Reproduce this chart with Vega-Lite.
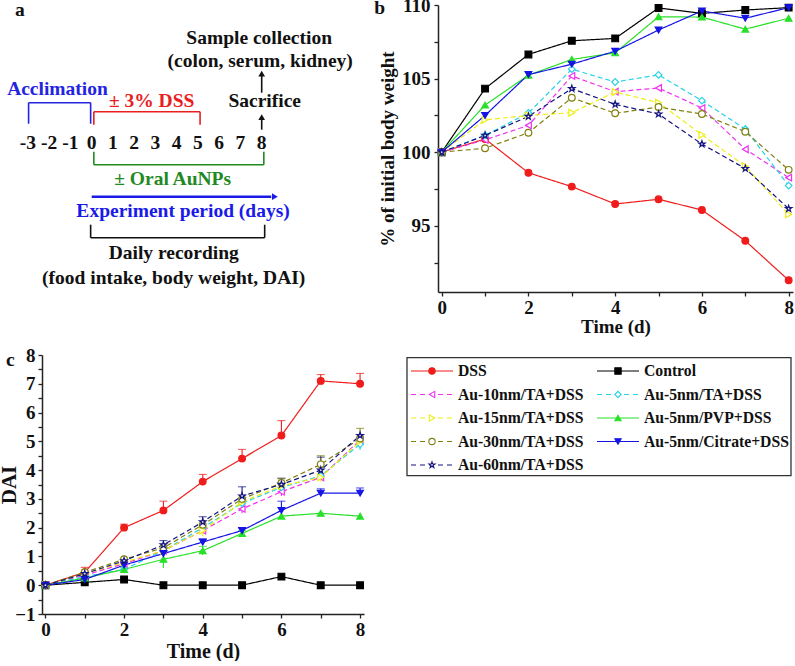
{
 "$schema": "https://vega.github.io/schema/vega-lite/v6.json",
 "background": "white",
 "padding": {"left": -2, "top": -4, "right": 0, "bottom": 0},
 "bounds": "flush",
 "align": "none",
 "columns": 2,
 "spacing": {"row": 63, "column": 43},
 "resolve": {"scale": {"color": "independent", "shape": "independent", "stroke": "independent", "fill": "independent", "strokeDash": "independent"}},
 "config": {
  "view": {"stroke": null},
  "font": "Liberation Serif",
  "axis": {"grid": false, "domainColor": "#222222", "domainWidth": 1.5, "tickColor": "#222222", "tickWidth": 1.3, "tickSize": 4, "labelFont": "Liberation Serif", "labelFontWeight": "bold", "labelColor": "#111111", "titleFont": "Liberation Serif", "titleFontWeight": "bold", "titleColor": "#111111", "labelFlush": false, "labelOverlap": false, "labelPadding": 2},
  "text": {"font": "Liberation Serif", "fontWeight": "bold"}
 },
 "datasets": {
  "bw": [
   {"g":"DSS","t":0,"v":100},{"g":"DSS","t":1,"v":100.9},{"g":"DSS","t":2,"v":98.6},{"g":"DSS","t":3,"v":97.66},{"g":"DSS","t":4,"v":96.48},{"g":"DSS","t":5,"v":96.8},{"g":"DSS","t":6,"v":96.07},{"g":"DSS","t":7,"v":93.98},{"g":"DSS","t":8,"v":91.3},
   {"g":"Control","t":0,"v":100},{"g":"Control","t":1,"v":104.32},{"g":"Control","t":2,"v":106.64},{"g":"Control","t":3,"v":107.57},{"g":"Control","t":4,"v":107.73},{"g":"Control","t":5,"v":109.8},{"g":"Control","t":6,"v":109.43},{"g":"Control","t":7,"v":109.66},{"g":"Control","t":8,"v":109.82},
   {"g":"Au-10nm/TA+DSS","t":0,"v":100},{"g":"Au-10nm/TA+DSS","t":1,"v":100.84},{"g":"Au-10nm/TA+DSS","t":2,"v":101.82},{"g":"Au-10nm/TA+DSS","t":3,"v":105.18},{"g":"Au-10nm/TA+DSS","t":4,"v":104.11},{"g":"Au-10nm/TA+DSS","t":5,"v":104.36},{"g":"Au-10nm/TA+DSS","t":6,"v":103.0},{"g":"Au-10nm/TA+DSS","t":7,"v":100.2},{"g":"Au-10nm/TA+DSS","t":8,"v":98.27},
   {"g":"Au-5nm/TA+DSS","t":0,"v":100},{"g":"Au-5nm/TA+DSS","t":1,"v":101.15},{"g":"Au-5nm/TA+DSS","t":2,"v":102.66},{"g":"Au-5nm/TA+DSS","t":3,"v":105.64},{"g":"Au-5nm/TA+DSS","t":4,"v":104.77},{"g":"Au-5nm/TA+DSS","t":5,"v":105.25},{"g":"Au-5nm/TA+DSS","t":6,"v":103.5},{"g":"Au-5nm/TA+DSS","t":7,"v":101.57},{"g":"Au-5nm/TA+DSS","t":8,"v":97.73},
   {"g":"Au-15nm/TA+DSS","t":0,"v":100},{"g":"Au-15nm/TA+DSS","t":1,"v":102.2},{"g":"Au-15nm/TA+DSS","t":2,"v":102.5},{"g":"Au-15nm/TA+DSS","t":3,"v":102.68},{"g":"Au-15nm/TA+DSS","t":4,"v":104.09},{"g":"Au-15nm/TA+DSS","t":5,"v":103.36},{"g":"Au-15nm/TA+DSS","t":6,"v":101.18},{"g":"Au-15nm/TA+DSS","t":7,"v":99.05},{"g":"Au-15nm/TA+DSS","t":8,"v":95.77},
   {"g":"Au-5nm/PVP+DSS","t":0,"v":100},{"g":"Au-5nm/PVP+DSS","t":1,"v":103.2},{"g":"Au-5nm/PVP+DSS","t":2,"v":105.23},{"g":"Au-5nm/PVP+DSS","t":3,"v":106.3},{"g":"Au-5nm/PVP+DSS","t":4,"v":106.75},{"g":"Au-5nm/PVP+DSS","t":5,"v":109.2},{"g":"Au-5nm/PVP+DSS","t":6,"v":109.18},{"g":"Au-5nm/PVP+DSS","t":7,"v":108.36},{"g":"Au-5nm/PVP+DSS","t":8,"v":109.1},
   {"g":"Au-30nm/TA+DSS","t":0,"v":100},{"g":"Au-30nm/TA+DSS","t":1,"v":100.27},{"g":"Au-30nm/TA+DSS","t":2,"v":101.32},{"g":"Au-30nm/TA+DSS","t":3,"v":103.7},{"g":"Au-30nm/TA+DSS","t":4,"v":102.64},{"g":"Au-30nm/TA+DSS","t":5,"v":103.07},{"g":"Au-30nm/TA+DSS","t":6,"v":102.59},{"g":"Au-30nm/TA+DSS","t":7,"v":101.39},{"g":"Au-30nm/TA+DSS","t":8,"v":98.8},
   {"g":"Au-5nm/Citrate+DSS","t":0,"v":100},{"g":"Au-5nm/Citrate+DSS","t":1,"v":102.5},{"g":"Au-5nm/Citrate+DSS","t":2,"v":105.27},{"g":"Au-5nm/Citrate+DSS","t":3,"v":105.98},{"g":"Au-5nm/Citrate+DSS","t":4,"v":106.86},{"g":"Au-5nm/Citrate+DSS","t":5,"v":108.3},{"g":"Au-5nm/Citrate+DSS","t":6,"v":109.6},{"g":"Au-5nm/Citrate+DSS","t":7,"v":109.1},{"g":"Au-5nm/Citrate+DSS","t":8,"v":109.82},
   {"g":"Au-60nm/TA+DSS","t":0,"v":100},{"g":"Au-60nm/TA+DSS","t":1,"v":101.14},{"g":"Au-60nm/TA+DSS","t":2,"v":102.43},{"g":"Au-60nm/TA+DSS","t":3,"v":104.32},{"g":"Au-60nm/TA+DSS","t":4,"v":103.25},{"g":"Au-60nm/TA+DSS","t":5,"v":102.59},{"g":"Au-60nm/TA+DSS","t":6,"v":100.55},{"g":"Au-60nm/TA+DSS","t":7,"v":98.89},{"g":"Au-60nm/TA+DSS","t":8,"v":96.16}
  ],
  "dai": [
   {"g":"DSS","t":0,"v":0},{"g":"DSS","t":1,"v":0.45},{"g":"DSS","t":2,"v":2.0},{"g":"DSS","t":3,"v":2.6},{"g":"DSS","t":4,"v":3.6},{"g":"DSS","t":5,"v":4.4},{"g":"DSS","t":6,"v":5.2},{"g":"DSS","t":7,"v":7.1},{"g":"DSS","t":8,"v":7.0},
   {"g":"Control","t":0,"v":0},{"g":"Control","t":1,"v":0.1},{"g":"Control","t":2,"v":0.2},{"g":"Control","t":3,"v":0},{"g":"Control","t":4,"v":0},{"g":"Control","t":5,"v":0},{"g":"Control","t":6,"v":0.3},{"g":"Control","t":7,"v":0},{"g":"Control","t":8,"v":0},
   {"g":"Au-10nm/TA+DSS","t":0,"v":0},{"g":"Au-10nm/TA+DSS","t":1,"v":0.35},{"g":"Au-10nm/TA+DSS","t":2,"v":0.75},{"g":"Au-10nm/TA+DSS","t":3,"v":1.2},{"g":"Au-10nm/TA+DSS","t":4,"v":1.9},{"g":"Au-10nm/TA+DSS","t":5,"v":2.65},{"g":"Au-10nm/TA+DSS","t":6,"v":3.25},{"g":"Au-10nm/TA+DSS","t":7,"v":3.75},{"g":"Au-10nm/TA+DSS","t":8,"v":5.05},
   {"g":"Au-5nm/TA+DSS","t":0,"v":0},{"g":"Au-5nm/TA+DSS","t":1,"v":0.3},{"g":"Au-5nm/TA+DSS","t":2,"v":0.55},{"g":"Au-5nm/TA+DSS","t":3,"v":1.2},{"g":"Au-5nm/TA+DSS","t":4,"v":2.0},{"g":"Au-5nm/TA+DSS","t":5,"v":2.85},{"g":"Au-5nm/TA+DSS","t":6,"v":3.4},{"g":"Au-5nm/TA+DSS","t":7,"v":3.8},{"g":"Au-5nm/TA+DSS","t":8,"v":4.9},
   {"g":"Au-15nm/TA+DSS","t":0,"v":0},{"g":"Au-15nm/TA+DSS","t":1,"v":0.4},{"g":"Au-15nm/TA+DSS","t":2,"v":0.8},{"g":"Au-15nm/TA+DSS","t":3,"v":1.2},{"g":"Au-15nm/TA+DSS","t":4,"v":1.9},{"g":"Au-15nm/TA+DSS","t":5,"v":2.9},{"g":"Au-15nm/TA+DSS","t":6,"v":3.45},{"g":"Au-15nm/TA+DSS","t":7,"v":3.75},{"g":"Au-15nm/TA+DSS","t":8,"v":5.0},
   {"g":"Au-5nm/PVP+DSS","t":0,"v":0},{"g":"Au-5nm/PVP+DSS","t":1,"v":0.25},{"g":"Au-5nm/PVP+DSS","t":2,"v":0.55},{"g":"Au-5nm/PVP+DSS","t":3,"v":0.9},{"g":"Au-5nm/PVP+DSS","t":4,"v":1.2},{"g":"Au-5nm/PVP+DSS","t":5,"v":1.8},{"g":"Au-5nm/PVP+DSS","t":6,"v":2.4},{"g":"Au-5nm/PVP+DSS","t":7,"v":2.5},{"g":"Au-5nm/PVP+DSS","t":8,"v":2.4},
   {"g":"Au-30nm/TA+DSS","t":0,"v":0},{"g":"Au-30nm/TA+DSS","t":1,"v":0.45},{"g":"Au-30nm/TA+DSS","t":2,"v":0.9},{"g":"Au-30nm/TA+DSS","t":3,"v":1.3},{"g":"Au-30nm/TA+DSS","t":4,"v":2.1},{"g":"Au-30nm/TA+DSS","t":5,"v":3.0},{"g":"Au-30nm/TA+DSS","t":6,"v":3.55},{"g":"Au-30nm/TA+DSS","t":7,"v":4.2},{"g":"Au-30nm/TA+DSS","t":8,"v":5.1},
   {"g":"Au-5nm/Citrate+DSS","t":0,"v":0},{"g":"Au-5nm/Citrate+DSS","t":1,"v":0.2},{"g":"Au-5nm/Citrate+DSS","t":2,"v":0.7},{"g":"Au-5nm/Citrate+DSS","t":3,"v":1.1},{"g":"Au-5nm/Citrate+DSS","t":4,"v":1.5},{"g":"Au-5nm/Citrate+DSS","t":5,"v":1.9},{"g":"Au-5nm/Citrate+DSS","t":6,"v":2.6},{"g":"Au-5nm/Citrate+DSS","t":7,"v":3.2},{"g":"Au-5nm/Citrate+DSS","t":8,"v":3.2},
   {"g":"Au-60nm/TA+DSS","t":0,"v":0},{"g":"Au-60nm/TA+DSS","t":1,"v":0.4},{"g":"Au-60nm/TA+DSS","t":2,"v":0.85},{"g":"Au-60nm/TA+DSS","t":3,"v":1.4},{"g":"Au-60nm/TA+DSS","t":4,"v":2.2},{"g":"Au-60nm/TA+DSS","t":5,"v":3.1},{"g":"Au-60nm/TA+DSS","t":6,"v":3.5},{"g":"Au-60nm/TA+DSS","t":7,"v":4.0},{"g":"Au-60nm/TA+DSS","t":8,"v":5.2}
  ],
  "err": [
   {"g":"DSS","t":1,"lo":0.45,"hi":0.62},{"g":"DSS","t":2,"lo":2.0,"hi":2.12},{"g":"DSS","t":3,"lo":2.6,"hi":2.92},{"g":"DSS","t":4,"lo":3.6,"hi":3.85},{"g":"DSS","t":5,"lo":4.4,"hi":4.72},{"g":"DSS","t":6,"lo":5.2,"hi":5.72},{"g":"DSS","t":7,"lo":7.1,"hi":7.32},{"g":"DSS","t":8,"lo":7.0,"hi":7.36},
   {"g":"Au-5nm/PVP+DSS","t":2,"lo":0.45,"hi":0.62},{"g":"Au-5nm/PVP+DSS","t":3,"lo":0.6,"hi":1.18},{"g":"Au-5nm/PVP+DSS","t":4,"lo":1.05,"hi":1.35},{"g":"Au-5nm/PVP+DSS","t":5,"lo":1.7,"hi":1.9},
   {"g":"Au-5nm/Citrate+DSS","t":4,"lo":1.5,"hi":1.6},{"g":"Au-5nm/Citrate+DSS","t":5,"lo":1.9,"hi":1.98},{"g":"Au-5nm/Citrate+DSS","t":6,"lo":2.6,"hi":2.92},{"g":"Au-5nm/Citrate+DSS","t":7,"lo":3.2,"hi":3.35},{"g":"Au-5nm/Citrate+DSS","t":8,"lo":3.2,"hi":3.38},
   {"g":"Au-60nm/TA+DSS","t":3,"lo":1.4,"hi":1.55},{"g":"Au-60nm/TA+DSS","t":4,"lo":2.2,"hi":2.38},{"g":"Au-60nm/TA+DSS","t":5,"lo":3.1,"hi":3.42},{"g":"Au-60nm/TA+DSS","t":6,"lo":3.5,"hi":3.72},{"g":"Au-60nm/TA+DSS","t":7,"lo":4.0,"hi":4.45},
   {"g":"Au-30nm/TA+DSS","t":6,"lo":3.55,"hi":3.7},{"g":"Au-30nm/TA+DSS","t":7,"lo":4.2,"hi":4.5},{"g":"Au-30nm/TA+DSS","t":8,"lo":5.1,"hi":5.45},
   {"g":"Au-5nm/TA+DSS","t":8,"lo":4.7,"hi":4.9},
   {"g":"Au-10nm/TA+DSS","t":5,"lo":2.5,"hi":2.65},{"g":"Au-10nm/TA+DSS","t":6,"lo":3.1,"hi":3.25},
   {"g":"Au-15nm/TA+DSS","t":4,"lo":1.7,"hi":1.9},{"g":"Au-15nm/TA+DSS","t":7,"lo":3.6,"hi":3.75}
  ],
  "leg": [
   {"g":"DSS","col":0,"row":0},{"g":"Control","col":1,"row":0},
   {"g":"Au-10nm/TA+DSS","col":0,"row":1},{"g":"Au-5nm/TA+DSS","col":1,"row":1},
   {"g":"Au-15nm/TA+DSS","col":0,"row":2},{"g":"Au-5nm/PVP+DSS","col":1,"row":2},
   {"g":"Au-30nm/TA+DSS","col":0,"row":3},{"g":"Au-5nm/Citrate+DSS","col":1,"row":3},
   {"g":"Au-60nm/TA+DSS","col":0,"row":4}
  ],
  "legBox": [
   {"c0": -0.0215, "c1": 2.043, "r0": -0.566, "r1": 4.455}
  ],
  "diagText": [
   {"x":-3.38,"y":1.2,"txt":"a","part":"other"},
   {"x":13.55,"y":1.0,"txt":"b","part":"other"},
   {"x":-3.83,"y":36.2,"txt":"c","part":"other"},
   {"x":7.88,"y":4.0,"txt":"Sample collection","part":"other"},
   {"x":7.93,"y":6.33,"txt":"(colon, serum, kidney)","part":"other"},
   {"x":8.14,"y":10.33,"txt":"Sacrifice","part":"other"},
   {"x":-1.61,"y":9.17,"txt":"Acclimation","part":"acclimation"},
   {"x":2.82,"y":10.33,"txt":"± 3% DSS","part":"dss"},
   {"x":-3,"y":14.5,"txt":"-3","part":"other"},
   {"x":-2,"y":14.5,"txt":"-2","part":"other"},
   {"x":-1,"y":14.5,"txt":"-1","part":"other"},
   {"x":0,"y":14.5,"txt":"0","part":"other"},
   {"x":1,"y":14.5,"txt":"1","part":"other"},
   {"x":2,"y":14.5,"txt":"2","part":"other"},
   {"x":3,"y":14.5,"txt":"3","part":"other"},
   {"x":4,"y":14.5,"txt":"4","part":"other"},
   {"x":5,"y":14.5,"txt":"5","part":"other"},
   {"x":6,"y":14.5,"txt":"6","part":"other"},
   {"x":7,"y":14.5,"txt":"7","part":"other"},
   {"x":8,"y":14.5,"txt":"8","part":"other"},
   {"x":3.81,"y":18.17,"txt":"± Oral AuNPs","part":"aunp"},
   {"x":4.3,"y":21.33,"txt":"Experiment period (days)","part":"period"},
   {"x":3.86,"y":25.57,"txt":"Daily recording","part":"other"},
   {"x":3.86,"y":28.0,"txt":"(food intake, body weight, DAI)","part":"other"}
  ],
  "diagLines": [
   {"x":-2.97,"x2":-0.05,"y":10.5,"y2":10.5,"part":"acclimation"},
   {"x":-2.97,"x2":-2.97,"y":10.5,"y2":12.6,"part":"acclimation"},
   {"x":-0.05,"x2":-0.05,"y":10.5,"y2":12.6,"part":"acclimation"},
   {"x":0.1,"x2":5.1,"y":11.4,"y2":11.4,"part":"dss"},
   {"x":0.1,"x2":0.1,"y":11.4,"y2":12.7,"part":"dss"},
   {"x":5.1,"x2":5.1,"y":11.4,"y2":12.7,"part":"dss"},
   {"x":0.1,"x2":8.1,"y":16.7,"y2":16.7,"part":"aunp"},
   {"x":0.1,"x2":0.1,"y":15.4,"y2":16.7,"part":"aunp"},
   {"x":8.1,"x2":8.1,"y":15.4,"y2":16.7,"part":"aunp"},
   {"x":0.0,"x2":8.45,"y":19.9,"y2":19.9,"part":"period"},
   {"x":-0.05,"x2":8.14,"y":24.0,"y2":24.0,"part":"other"},
   {"x":-0.05,"x2":-0.05,"y":22.7,"y2":24.0,"part":"other"},
   {"x":8.14,"x2":8.14,"y":22.7,"y2":24.0,"part":"other"},
   {"x":8.0,"x2":8.0,"y":12.0,"y2":13.2,"part":"other"},
   {"x":8.0,"x2":8.0,"y":7.7,"y2":9.5,"part":"other"}
  ],
  "diagHeads": [
   {"x":8.62,"y":19.9,"dir":"right","part":"period"},
   {"x":8.0,"y":11.95,"dir":"up","part":"other"},
   {"x":8.0,"y":7.6,"dir":"up","part":"other"}
  ]
 },
 "concat": [
  {
   "width": 353,
   "height": 287,
   "layer": [
    {
     "data": {"name": "diagLines"},
     "transform": [{"filter": "datum.part != 'period'"}],
     "mark": {"type": "rule", "strokeWidth": 1.6},
     "encoding": {
      "x": {"field": "x", "type": "quantitative", "scale": {"domain": [-2.339, 14.273], "nice": false, "zero": false}, "axis": null},
      "x2": {"field": "x2"},
      "y": {"field": "y", "type": "quantitative", "scale": {"domain": [0.73, 29.43], "reverse": true, "nice": false, "zero": false}, "axis": null},
      "y2": {"field": "y2"},
      "color": {"field": "part", "type": "nominal", "scale": {"domain": ["other", "acclimation", "dss", "aunp", "period"], "range": ["#111111", "#2424e0", "#e82020", "#1f8a1f", "#1a1ae8"]}, "legend": null}
     }
    },
    {
     "data": {"name": "diagLines"},
     "transform": [{"filter": "datum.part == 'period'"}],
     "mark": {"type": "rule", "strokeWidth": 2.6},
     "encoding": {
      "x": {"field": "x", "type": "quantitative", "scale": {"domain": [-2.339, 14.273], "nice": false, "zero": false}, "axis": null},
      "x2": {"field": "x2"},
      "y": {"field": "y", "type": "quantitative", "scale": {"domain": [0.73, 29.43], "reverse": true, "nice": false, "zero": false}, "axis": null},
      "y2": {"field": "y2"},
      "color": {"field": "part", "type": "nominal", "scale": {"domain": ["other", "acclimation", "dss", "aunp", "period"], "range": ["#111111", "#2424e0", "#e82020", "#1f8a1f", "#1a1ae8"]}, "legend": null}
     }
    },
    {
     "data": {"name": "diagHeads"},
     "mark": {"type": "point", "filled": true, "size": 45, "opacity": 1},
     "encoding": {
      "x": {"field": "x", "type": "quantitative", "scale": {"domain": [-2.339, 14.273], "nice": false, "zero": false}, "axis": null},
      "y": {"field": "y", "type": "quantitative", "scale": {"domain": [0.73, 29.43], "reverse": true, "nice": false, "zero": false}, "axis": null},
      "shape": {"field": "dir", "type": "nominal", "scale": {"domain": ["up", "right"], "range": ["triangle-up", "triangle-right"]}, "legend": null},
      "color": {"field": "part", "type": "nominal", "scale": {"domain": ["other", "acclimation", "dss", "aunp", "period"], "range": ["#111111", "#2424e0", "#e82020", "#1f8a1f", "#1a1ae8"]}, "legend": null}
     }
    },
    {
     "data": {"name": "diagText"},
     "mark": {"type": "text", "fontSize": 19.5, "fontWeight": "bold", "align": "center", "baseline": "middle"},
     "encoding": {
      "x": {"field": "x", "type": "quantitative", "scale": {"domain": [-2.339, 14.273], "nice": false, "zero": false}, "axis": null},
      "y": {"field": "y", "type": "quantitative", "scale": {"domain": [0.73, 29.43], "reverse": true, "nice": false, "zero": false}, "axis": null},
      "text": {"field": "txt"},
      "color": {"field": "part", "type": "nominal", "scale": {"domain": ["other", "acclimation", "dss", "aunp", "period"], "range": ["#111111", "#2424e0", "#e82020", "#1f8a1f", "#1a1ae8"]}, "legend": null}
     }
    }
   ]
  },
  {
   "width": 355,
   "height": 287,
   "data": {"name": "bw"},
   "encoding": {
    "x": {"field": "t", "type": "quantitative", "title": "Time (d)", "scale": {"domain": [-0.085, 8.1], "nice": false, "zero": false}, "axis": {"values": [0, 1, 2, 3, 4, 5, 6, 7, 8], "format": ".0f", "labelExpr": "datum.value % 2 == 0 ? datum.label : ''", "labelFontSize": 19, "titleFontSize": 19, "titlePadding": 0}},
    "y": {"field": "v", "type": "quantitative", "title": "% of initial body weight", "scale": {"domain": [90.5, 110], "nice": false, "zero": false}, "axis": {"values": [92.5, 95, 97.5, 100, 102.5, 105, 107.5, 110], "format": ".0f", "labelExpr": "datum.value % 5 == 0 ? datum.label : ''", "labelFontSize": 19, "titleFontSize": 19, "labelPadding": 4}}
   },
   "layer": [
    {
     "mark": {"type": "line", "strokeWidth": 1.2},
     "encoding": {
      "color": {"field": "g", "type": "nominal", "scale": {"domain": ["DSS", "Control", "Au-10nm/TA+DSS", "Au-5nm/TA+DSS", "Au-15nm/TA+DSS", "Au-5nm/PVP+DSS", "Au-30nm/TA+DSS", "Au-5nm/Citrate+DSS", "Au-60nm/TA+DSS"], "range": ["#f01c1c", "#000000", "#f032f0", "#28d2e6", "#eeee10", "#28e028", "#808010", "#1414e6", "#141480"]}, "legend": null},
      "strokeDash": {"field": "g", "type": "nominal", "scale": {"domain": ["DSS", "Control", "Au-10nm/TA+DSS", "Au-5nm/TA+DSS", "Au-15nm/TA+DSS", "Au-5nm/PVP+DSS", "Au-30nm/TA+DSS", "Au-5nm/Citrate+DSS", "Au-60nm/TA+DSS"], "range": [[1, 0], [1, 0], [5, 3], [5, 3], [5, 3], [1, 0], [5, 3], [1, 0], [5, 3]]}, "legend": null}
     }
    },
    {
     "mark": {"type": "point", "filled": true, "size": 45, "strokeWidth": 1.2, "opacity": 1},
     "encoding": {
      "shape": {"field": "g", "type": "nominal", "scale": {"domain": ["DSS", "Control", "Au-10nm/TA+DSS", "Au-5nm/TA+DSS", "Au-15nm/TA+DSS", "Au-5nm/PVP+DSS", "Au-30nm/TA+DSS", "Au-5nm/Citrate+DSS", "Au-60nm/TA+DSS"], "range": ["circle", "square", "triangle-left", "diamond", "triangle-right", "triangle-up", "circle", "triangle-down", "M0,-1L0.2245,-0.309L0.9511,-0.309L0.3633,0.118L0.5878,0.809L0,0.382L-0.5878,0.809L-0.3633,0.118L-0.9511,-0.309L-0.2245,-0.309Z"]}, "legend": null},
      "stroke": {"field": "g", "type": "nominal", "scale": {"domain": ["DSS", "Control", "Au-10nm/TA+DSS", "Au-5nm/TA+DSS", "Au-15nm/TA+DSS", "Au-5nm/PVP+DSS", "Au-30nm/TA+DSS", "Au-5nm/Citrate+DSS", "Au-60nm/TA+DSS"], "range": ["#f01c1c", "#000000", "#f032f0", "#28d2e6", "#eeee10", "#28e028", "#808010", "#1414e6", "#141480"]}, "legend": null},
      "fill": {"field": "g", "type": "nominal", "scale": {"domain": ["DSS", "Control", "Au-10nm/TA+DSS", "Au-5nm/TA+DSS", "Au-15nm/TA+DSS", "Au-5nm/PVP+DSS", "Au-30nm/TA+DSS", "Au-5nm/Citrate+DSS", "Au-60nm/TA+DSS"], "range": ["#f01c1c", "#000000", "#ffffff", "#ffffff", "#ffffff", "#28e028", "#ffffff", "#1414e6", "#ffffff"]}, "legend": null}
     }
    }
   ]
  },
  {
   "width": 322,
   "height": 259,
   "encoding": {
    "x": {"field": "t", "type": "quantitative", "title": "Time (d)", "scale": {"domain": [-0.087, 8.1], "nice": false, "zero": false}, "axis": {"values": [0, 1, 2, 3, 4, 5, 6, 7, 8], "format": ".0f", "labelExpr": "datum.value % 2 == 0 ? datum.label : ''", "labelFontSize": 19, "titleFontSize": 20, "titlePadding": 2}},
    "y": {"field": "v", "type": "quantitative", "title": "DAI", "scale": {"domain": [-1, 8], "nice": false, "zero": false}, "axis": {"values": [-1, -0.5, 0, 0.5, 1, 1.5, 2, 2.5, 3, 3.5, 4, 4.5, 5, 5.5, 6, 6.5, 7, 7.5, 8], "format": ".0f", "labelExpr": "datum.value % 1 == 0 ? datum.label : ''", "labelFontSize": 19, "titleFontSize": 21, "labelPadding": 3, "titlePadding": -5}}
   },
   "layer": [
    {
     "data": {"name": "err"},
     "mark": {"type": "rule", "strokeWidth": 1.1},
     "encoding": {
      "y": {"field": "lo", "type": "quantitative", "title": "DAI"},
      "y2": {"field": "hi"},
      "color": {"field": "g", "type": "nominal", "scale": {"domain": ["DSS", "Control", "Au-10nm/TA+DSS", "Au-5nm/TA+DSS", "Au-15nm/TA+DSS", "Au-5nm/PVP+DSS", "Au-30nm/TA+DSS", "Au-5nm/Citrate+DSS", "Au-60nm/TA+DSS"], "range": ["#f01c1c", "#000000", "#f032f0", "#28d2e6", "#eeee10", "#28e028", "#808010", "#1414e6", "#141480"]}, "legend": null}
     }
    },
    {
     "data": {"name": "err"},
     "mark": {"type": "tick", "orient": "horizontal", "size": 8, "thickness": 1.1},
     "encoding": {
      "y": {"field": "hi", "type": "quantitative", "title": "DAI"},
      "color": {"field": "g", "type": "nominal", "scale": {"domain": ["DSS", "Control", "Au-10nm/TA+DSS", "Au-5nm/TA+DSS", "Au-15nm/TA+DSS", "Au-5nm/PVP+DSS", "Au-30nm/TA+DSS", "Au-5nm/Citrate+DSS", "Au-60nm/TA+DSS"], "range": ["#f01c1c", "#000000", "#f032f0", "#28d2e6", "#eeee10", "#28e028", "#808010", "#1414e6", "#141480"]}, "legend": null}
     }
    },
    {
     "data": {"name": "dai"},
     "mark": {"type": "line", "strokeWidth": 1.2},
     "encoding": {
      "color": {"field": "g", "type": "nominal", "scale": {"domain": ["DSS", "Control", "Au-10nm/TA+DSS", "Au-5nm/TA+DSS", "Au-15nm/TA+DSS", "Au-5nm/PVP+DSS", "Au-30nm/TA+DSS", "Au-5nm/Citrate+DSS", "Au-60nm/TA+DSS"], "range": ["#f01c1c", "#000000", "#f032f0", "#28d2e6", "#eeee10", "#28e028", "#808010", "#1414e6", "#141480"]}, "legend": null},
      "strokeDash": {"field": "g", "type": "nominal", "scale": {"domain": ["DSS", "Control", "Au-10nm/TA+DSS", "Au-5nm/TA+DSS", "Au-15nm/TA+DSS", "Au-5nm/PVP+DSS", "Au-30nm/TA+DSS", "Au-5nm/Citrate+DSS", "Au-60nm/TA+DSS"], "range": [[1, 0], [1, 0], [5, 3], [5, 3], [5, 3], [1, 0], [5, 3], [1, 0], [5, 3]]}, "legend": null}
     }
    },
    {
     "data": {"name": "dai"},
     "mark": {"type": "point", "filled": true, "size": 45, "strokeWidth": 1.2, "opacity": 1},
     "encoding": {
      "shape": {"field": "g", "type": "nominal", "scale": {"domain": ["DSS", "Control", "Au-10nm/TA+DSS", "Au-5nm/TA+DSS", "Au-15nm/TA+DSS", "Au-5nm/PVP+DSS", "Au-30nm/TA+DSS", "Au-5nm/Citrate+DSS", "Au-60nm/TA+DSS"], "range": ["circle", "square", "triangle-left", "diamond", "triangle-right", "triangle-up", "circle", "triangle-down", "M0,-1L0.2245,-0.309L0.9511,-0.309L0.3633,0.118L0.5878,0.809L0,0.382L-0.5878,0.809L-0.3633,0.118L-0.9511,-0.309L-0.2245,-0.309Z"]}, "legend": null},
      "stroke": {"field": "g", "type": "nominal", "scale": {"domain": ["DSS", "Control", "Au-10nm/TA+DSS", "Au-5nm/TA+DSS", "Au-15nm/TA+DSS", "Au-5nm/PVP+DSS", "Au-30nm/TA+DSS", "Au-5nm/Citrate+DSS", "Au-60nm/TA+DSS"], "range": ["#f01c1c", "#000000", "#f032f0", "#28d2e6", "#eeee10", "#28e028", "#808010", "#1414e6", "#141480"]}, "legend": null},
      "fill": {"field": "g", "type": "nominal", "scale": {"domain": ["DSS", "Control", "Au-10nm/TA+DSS", "Au-5nm/TA+DSS", "Au-15nm/TA+DSS", "Au-5nm/PVP+DSS", "Au-30nm/TA+DSS", "Au-5nm/Citrate+DSS", "Au-60nm/TA+DSS"], "range": ["#f01c1c", "#000000", "#ffffff", "#ffffff", "#ffffff", "#28e028", "#ffffff", "#1414e6", "#ffffff"]}, "legend": null}
     }
    }
   ]
  },
  {
   "width": 353,
   "height": 121,
   "layer": [
    {
     "data": {"name": "legBox"},
     "mark": {"type": "rect", "filled": false, "stroke": "#333333", "strokeWidth": 1.3},
     "encoding": {
      "x": {"field": "c0", "type": "quantitative", "scale": {"domain": [0.14516, 2.043], "nice": false, "zero": false}, "axis": null},
      "x2": {"field": "c1"},
      "y": {"field": "r0", "type": "quantitative", "scale": {"domain": [-0.681, 4.468], "reverse": true, "nice": false, "zero": false}, "axis": null},
      "y2": {"field": "r1"}
     }
    },
    {
     "data": {"name": "leg"},
     "mark": {"type": "rule", "x2Offset": 42, "strokeWidth": 1.2},
     "encoding": {
      "x": {"field": "col", "type": "quantitative", "scale": {"domain": [0.14516, 2.043], "nice": false, "zero": false}, "axis": null},
      "x2": {"field": "col"},
      "y": {"field": "row", "type": "quantitative", "scale": {"domain": [-0.681, 4.468], "reverse": true, "nice": false, "zero": false}, "axis": null},
      "color": {"field": "g", "type": "nominal", "scale": {"domain": ["DSS", "Control", "Au-10nm/TA+DSS", "Au-5nm/TA+DSS", "Au-15nm/TA+DSS", "Au-5nm/PVP+DSS", "Au-30nm/TA+DSS", "Au-5nm/Citrate+DSS", "Au-60nm/TA+DSS"], "range": ["#f01c1c", "#000000", "#f032f0", "#28d2e6", "#eeee10", "#28e028", "#808010", "#1414e6", "#141480"]}, "legend": null},
      "strokeDash": {"field": "g", "type": "nominal", "scale": {"domain": ["DSS", "Control", "Au-10nm/TA+DSS", "Au-5nm/TA+DSS", "Au-15nm/TA+DSS", "Au-5nm/PVP+DSS", "Au-30nm/TA+DSS", "Au-5nm/Citrate+DSS", "Au-60nm/TA+DSS"], "range": [[1, 0], [1, 0], [5, 4], [5, 4], [5, 4], [1, 0], [5, 4], [1, 0], [5, 4]]}, "legend": null}
     }
    },
    {
     "data": {"name": "leg"},
     "mark": {"type": "point", "filled": true, "size": 40, "xOffset": 21, "strokeWidth": 1.1, "opacity": 1},
     "encoding": {
      "x": {"field": "col", "type": "quantitative", "scale": {"domain": [0.14516, 2.043], "nice": false, "zero": false}, "axis": null},
      "y": {"field": "row", "type": "quantitative", "scale": {"domain": [-0.681, 4.468], "reverse": true, "nice": false, "zero": false}, "axis": null},
      "shape": {"field": "g", "type": "nominal", "scale": {"domain": ["DSS", "Control", "Au-10nm/TA+DSS", "Au-5nm/TA+DSS", "Au-15nm/TA+DSS", "Au-5nm/PVP+DSS", "Au-30nm/TA+DSS", "Au-5nm/Citrate+DSS", "Au-60nm/TA+DSS"], "range": ["circle", "square", "triangle-left", "diamond", "triangle-right", "triangle-up", "circle", "triangle-down", "M0,-1L0.2245,-0.309L0.9511,-0.309L0.3633,0.118L0.5878,0.809L0,0.382L-0.5878,0.809L-0.3633,0.118L-0.9511,-0.309L-0.2245,-0.309Z"]}, "legend": null},
      "stroke": {"field": "g", "type": "nominal", "scale": {"domain": ["DSS", "Control", "Au-10nm/TA+DSS", "Au-5nm/TA+DSS", "Au-15nm/TA+DSS", "Au-5nm/PVP+DSS", "Au-30nm/TA+DSS", "Au-5nm/Citrate+DSS", "Au-60nm/TA+DSS"], "range": ["#f01c1c", "#000000", "#f032f0", "#28d2e6", "#eeee10", "#28e028", "#808010", "#1414e6", "#141480"]}, "legend": null},
      "fill": {"field": "g", "type": "nominal", "scale": {"domain": ["DSS", "Control", "Au-10nm/TA+DSS", "Au-5nm/TA+DSS", "Au-15nm/TA+DSS", "Au-5nm/PVP+DSS", "Au-30nm/TA+DSS", "Au-5nm/Citrate+DSS", "Au-60nm/TA+DSS"], "range": ["#f01c1c", "#000000", "#ffffff", "#ffffff", "#ffffff", "#28e028", "#ffffff", "#1414e6", "#ffffff"]}, "legend": null}
     }
    },
    {
     "data": {"name": "leg"},
     "mark": {"type": "text", "dx": 47, "align": "left", "baseline": "middle", "fontSize": 15.7, "fontWeight": "bold", "color": "#111111"},
     "encoding": {
      "x": {"field": "col", "type": "quantitative", "scale": {"domain": [0.14516, 2.043], "nice": false, "zero": false}, "axis": null},
      "y": {"field": "row", "type": "quantitative", "scale": {"domain": [-0.681, 4.468], "reverse": true, "nice": false, "zero": false}, "axis": null},
      "text": {"field": "g"}
     }
    }
   ]
  }
 ]
}
